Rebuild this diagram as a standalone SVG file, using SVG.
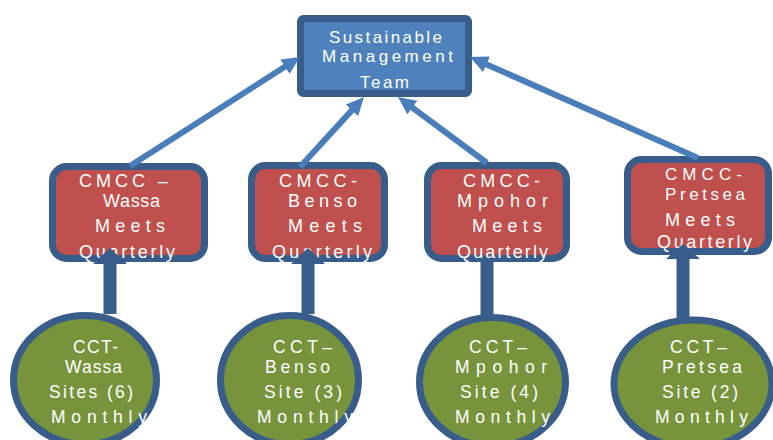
<svg xmlns="http://www.w3.org/2000/svg" width="773" height="440" viewBox="0 0 773 440">
<defs>
<style>
.top{fill:#4F81BD;stroke:#385D8A;stroke-width:7}
.box{fill:#C0504D;stroke:#385D8A;stroke-width:7}
.circ{fill:#77933C;stroke:#385D8A;stroke-width:7}
text{font-family:"Liberation Sans",Arial,sans-serif;fill:#ffffff}
.t16{font-size:17.5px}
.t17{font-size:18px}
.t17s{font-size:17px}
.tt{font-size:17px}
.diag{stroke:#4A7EBB;stroke-width:6;fill:none;marker-end:url(#ah)}
.vert{stroke:#385D8A;stroke-width:13;fill:none}
.vhead{fill:#385D8A}
</style>
<marker id="ah" markerUnits="userSpaceOnUse" viewBox="0 0 18 17" markerWidth="18" markerHeight="17" refX="6" refY="8.5" orient="auto">
<path d="M0,0 L18,8.5 L0,17 z" fill="#4A7EBB"/>
</marker>
</defs>
<rect width="773" height="440" fill="#ffffff"/>

<g id="team">
<rect class="top" x="300.5" y="18.5" width="168" height="75" rx="3"/>
<text class="tt" x="329" y="43" textLength="113" lengthAdjust="spacing">Sustainable</text>
<text class="tt" x="322" y="62" textLength="131" lengthAdjust="spacing">Management</text>
<text class="tt" x="360" y="88" textLength="49" lengthAdjust="spacing">Team</text>
</g>

<g id="cmcc-wassa">
<rect class="box" x="52.5" y="166.5" width="152" height="92" rx="14"/>
<text class="t17" x="79" y="187" textLength="89" lengthAdjust="spacing">CMCC –</text>
<text class="t17" x="103" y="207" textLength="57" lengthAdjust="spacing">Wassa</text>
<text class="t17" x="95" y="232" textLength="70" lengthAdjust="spacing">Meets</text>
<text class="t17" x="79" y="258" textLength="96" lengthAdjust="spacing">Quarterly</text>
</g>

<g id="cmcc-benso">
<rect class="box" x="251.5" y="165.5" width="133" height="93" rx="14"/>
<text class="t17" x="279" y="187" textLength="78" lengthAdjust="spacing">CMCC-</text>
<text class="t17" x="288" y="207" textLength="69" lengthAdjust="spacing">Benso</text>
<text class="t17" x="288" y="232" textLength="74" lengthAdjust="spacing">Meets</text>
<text class="t17" x="272" y="258" textLength="100" lengthAdjust="spacing">Quarterly</text>
</g>

<g id="cmcc-mpohor">
<rect class="box" x="427.5" y="165.5" width="139" height="93" rx="14"/>
<text class="t17" x="463" y="187" textLength="77" lengthAdjust="spacing">CMCC-</text>
<text class="t17" x="457" y="207" textLength="91" lengthAdjust="spacing">Mpohor</text>
<text class="t17" x="472" y="232" textLength="70" lengthAdjust="spacing">Meets</text>
<text class="t17" x="457" y="258" textLength="91" lengthAdjust="spacing">Quarterly</text>
</g>

<g id="cmcc-pretsea">
<rect class="box" x="627.5" y="159.5" width="141" height="92" rx="14"/>
<text class="t17s" x="665" y="180" textLength="77" lengthAdjust="spacing">CMCC-</text>
<text class="t17s" x="665" y="200" textLength="80" lengthAdjust="spacing">Pretsea</text>
<text class="t17" x="665" y="226" textLength="70" lengthAdjust="spacing">Meets</text>
<text class="t17" x="657" y="248" textLength="95" lengthAdjust="spacing">Quarterly</text>
</g>

<g id="cct-wassa">
<ellipse class="circ" cx="85" cy="380" rx="71.5" ry="64.5"/>
<text class="t16" x="73" y="353" textLength="45" lengthAdjust="spacing">CCT-</text>
<text class="t16" x="65" y="373" textLength="57" lengthAdjust="spacing">Wassa</text>
<text class="t16" x="49" y="398" textLength="84" lengthAdjust="spacing">Sites (6)</text>
<text class="t16" x="51" y="423" textLength="96" lengthAdjust="spacing">Monthly</text>
</g>

<g id="cct-benso">
<ellipse class="circ" cx="289.5" cy="380" rx="69" ry="64.5"/>
<text class="t16" x="273" y="353" textLength="59" lengthAdjust="spacing">CCT–</text>
<text class="t16" x="265" y="373" textLength="65" lengthAdjust="spacing">Benso</text>
<text class="t16" x="264" y="398" textLength="78" lengthAdjust="spacing">Site (3)</text>
<text class="t16" x="257" y="423" textLength="96" lengthAdjust="spacing">Monthly</text>
</g>

<g id="cct-mpohor">
<ellipse class="circ" cx="492.5" cy="382" rx="73" ry="64.5"/>
<text class="t16" x="469" y="353" textLength="58" lengthAdjust="spacing">CCT–</text>
<text class="t16" x="455" y="373" textLength="92" lengthAdjust="spacing">Mpohor</text>
<text class="t16" x="460" y="398" textLength="78" lengthAdjust="spacing">Site (4)</text>
<text class="t16" x="455" y="423" textLength="95" lengthAdjust="spacing">Monthly</text>
</g>

<g id="cct-pretsea">
<ellipse class="circ" cx="693" cy="384" rx="79" ry="64"/>
<text class="t16" x="670" y="353" textLength="57" lengthAdjust="spacing">CCT–</text>
<text class="t16" x="662" y="373" textLength="80" lengthAdjust="spacing">Pretsea</text>
<text class="t16" x="662" y="398" textLength="76" lengthAdjust="spacing">Site (2)</text>
<text class="t16" x="655" y="423" textLength="93" lengthAdjust="spacing">Monthly</text>
</g>

<g id="connectors">
<line class="diag" x1="130" y1="166" x2="289.9" y2="63.5"/>
<line class="diag" x1="300" y1="167" x2="355.9" y2="105.9"/>
<line class="diag" x1="487" y1="163" x2="407.6" y2="104.1"/>
<line class="diag" x1="698" y1="158" x2="481" y2="61.9"/>
<line class="vert" x1="110" y1="314" x2="110" y2="262"/>
<path class="vhead" d="M110,248 L127,264 L93,264 z"/>
<line class="vert" x1="308" y1="314" x2="308" y2="262"/>
<path class="vhead" d="M308,248 L325,264 L291,264 z"/>
<line class="vert" x1="487" y1="318" x2="487" y2="262"/>
<line class="vert" x1="683" y1="320" x2="683" y2="256"/>
<path class="vhead" d="M683,244 L700,259 L666,259 z"/>
</g>
</svg>
